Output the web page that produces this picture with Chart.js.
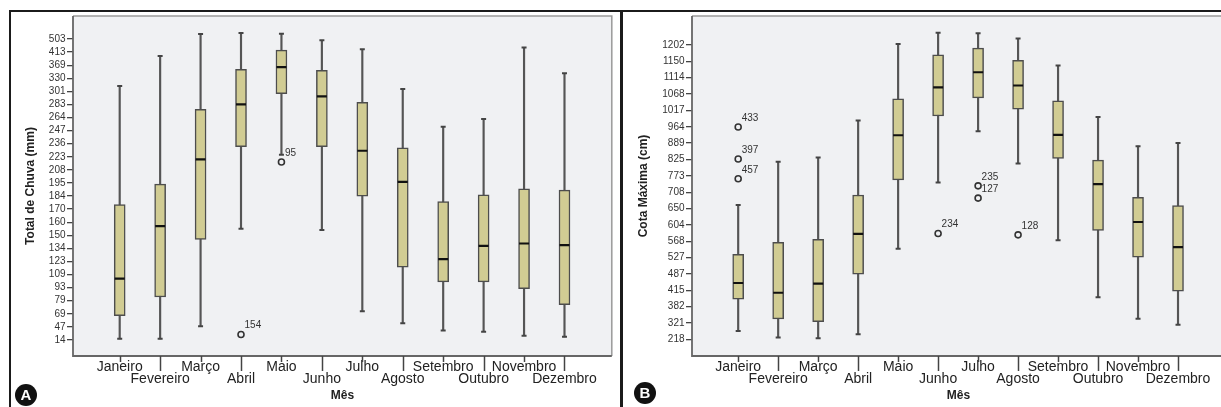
<!DOCTYPE html>
<html>
<head>
<meta charset="utf-8">
<script src="https://cdn.jsdelivr.net/npm/chart.js@4.4.1/dist/chart.umd.min.js"></script>
<style>
  html, body { margin: 0; padding: 0; background: #fff; overflow: hidden; }
  #wrap { position: relative; width: 1221px; height: 407px; overflow: hidden; }
  .frame { position: absolute; left: 9px; top: 10px; width: 1300px; height: 500px;
           border-top: 2.5px solid #1b1b1b; border-left: 2.5px solid #1b1b1b; }
  .sep { position: absolute; left: 620px; top: 10px; width: 2.5px; height: 400px; background: #1b1b1b; }
  .cv { position: absolute; top: 0; }
  .badge { position: absolute; width: 22px; height: 22px; border-radius: 50%; background: #111; color: #fff;
           font: bold 15px 'Liberation Sans', Arial, sans-serif; text-align: center; line-height: 22px; }
</style>
</head>
<body>
<div id="wrap">
  <div class="frame"></div>
  <div class="sep"></div>
  <canvas id="chartA" class="cv" style="left:0" width="619" height="407"></canvas>
  <canvas id="chartB" class="cv" style="left:619px" width="613" height="407"></canvas>
  <div class="badge" style="left:15px;top:384px">A</div>
  <div class="badge" style="left:634px;top:382px">B</div>
</div>
<script>
// ── data ────────────────────────────────────────────────────────
const months = ["Janeiro", "Fevereiro", "Março", "Abril", "Maio", "Junho",
  "Julho", "Agosto", "Setembro", "Outubro", "Novembro", "Dezembro"];

// A — Total de Chuva (mm); axis ticks are evenly spaced, not linear in value
const rainTicks = [14, 47, 69, 79, 93, 109, 123, 134, 150, 160, 170, 184,
  195, 208, 223, 236, 247, 264, 283, 301, 330, 369, 413, 503];
const rainMin = [17, 17, 48, 155, 225, 154, 71, 53, 38, 35, 25, 22];
const rainQ1  = [66, 83, 145, 233, 298, 233, 184, 117, 100, 100, 92, 76];
const rainMed = [104, 157, 220, 283, 363, 294, 229, 196, 125, 137, 140, 138];
const rainQ3  = [175, 194, 276, 357, 427, 354, 286, 232, 178, 185, 190, 189];
const rainMax = [313, 400, 537, 544, 540, 494, 432, 306, 252, 262, 445, 345];
const rainOutMonth = [3, 4];
const rainOutValue = [28, 217];
const rainOutLabel = ["154", "95"];

// B — Cota Máxima (cm)
const cotaTicks = [218, 321, 382, 415, 487, 527, 568, 604, 650, 708, 773,
  825, 889, 964, 1017, 1068, 1114, 1150, 1202];
const cotaMin = [270, 230, 224, 250, 549, 746, 943, 812, 570, 401, 337, 310];
const cotaQ1  = [397, 336, 326, 486, 757, 999, 1056, 1021, 829, 592, 528, 413];
const cotaMed = [447, 410, 444, 584, 925, 1087, 1126, 1092, 927, 740, 612, 553];
const cotaQ3  = [535, 565, 572, 698, 1053, 1171, 1192, 1153, 1047, 823, 690, 660];
const cotaMax = [662, 818, 833, 984, 1205, 1241, 1239, 1223, 1141, 996, 877, 890];
const cotaOutMonth = [0, 0, 0, 5, 6, 6, 7];
const cotaOutValue = [963, 827, 761, 585, 733, 687, 582];
const cotaOutLabel = ["433", "397", "457", "234", "235", "127", "128"];

const FONT = "'Liberation Sans', Arial, sans-serif";
Chart.defaults.font.family = FONT;

// value -> position on the evenly spaced tick axis (piecewise linear)
function toPos(v, ticks) {
  let k = 0;
  while (k < ticks.length - 2 && v > ticks[k + 1]) k++;
  return k + (v - ticks[k]) / (ticks[k + 1] - ticks[k]);
}

// ── background, frame, staggered x tick marks, outlier labels ───
const boxDecor = {
  id: "boxDecor",
  beforeDraw(chart) {
    const { ctx, chartArea: a } = chart;
    ctx.save();
    ctx.fillStyle = "#f0f1f3";
    ctx.fillRect(a.left, a.top, a.right - a.left, a.bottom - a.top);
    ctx.restore();
  },
  afterDraw(chart, args, o) {
    const { ctx, chartArea: a } = chart;
    const x = chart.scales.x;
    ctx.save();
    ctx.strokeStyle = "#9a9a9a";
    ctx.lineWidth = 1.5;
    ctx.beginPath();
    ctx.moveTo(a.left, a.top); ctx.lineTo(a.right, a.top); ctx.lineTo(a.right, a.bottom);
    ctx.stroke();
    ctx.strokeStyle = "#666";
    ctx.lineWidth = 1.8;
    ctx.beginPath();
    ctx.moveTo(a.left, a.top); ctx.lineTo(a.left, a.bottom); ctx.lineTo(a.right, a.bottom);
    ctx.stroke();

    ctx.strokeStyle = "#444";
    ctx.lineWidth = 1.5;
    months.forEach((m, i) => {
      const px = Math.round(x.getPixelForValue(i)) + 0.5;
      ctx.beginPath();
      ctx.moveTo(px, a.bottom);
      ctx.lineTo(px, a.bottom + (i % 2 ? 15 : 6));
      ctx.stroke();
    });

    const meta = chart.getDatasetMeta(o.outlierIndex);
    ctx.fillStyle = "#333";
    ctx.font = "10px " + FONT;
    ctx.textBaseline = "middle";
    ctx.textAlign = "left";
    meta.data.forEach((p, j) => ctx.fillText(o.labels[j], p.x + 3.5, p.y - 9));
    ctx.restore();
  },
};

function buildBoxChart(el, c) {
  const pos = (v) => toPos(v, c.ticks);
  const idx = months.map((m, i) => i);
  return new Chart(el, {
    type: "bar",
    data: {
      datasets: [
        {
          type: "scatter",
          label: "outliers",
          data: c.outMonth.map((m, j) => ({ x: m, y: pos(c.outValue[j]) })),
          pointStyle: "circle",
          pointRadius: 3,
          pointBorderWidth: 1.6,
          pointBorderColor: "#333",
          pointBackgroundColor: "rgba(0,0,0,0)",
          order: 0,
        },
        {
          type: "scatter",
          label: "median",
          data: idx.map((i) => ({ x: i, y: pos(c.med[i]) })),
          pointStyle: "line",
          pointRadius: 5,
          pointBorderWidth: 2.2,
          pointBorderColor: "#111",
          order: 1,
        },
        {
          type: "scatter",
          label: "caps",
          data: idx.flatMap((i) => [{ x: i, y: pos(c.min[i]) }, { x: i, y: pos(c.max[i]) }]),
          pointStyle: "line",
          pointRadius: 2.5,
          pointBorderWidth: 2,
          pointBorderColor: "#444",
          order: 2,
        },
        {
          label: "box",
          data: idx.map((i) => ({ x: i, y: [pos(c.q1[i]), pos(c.q3[i])] })),
          backgroundColor: "#d1cc93",
          borderColor: "#4d4d4d",
          borderWidth: 1.5,
          borderSkipped: false,
          barThickness: 11,
          grouped: false,
          order: 3,
        },
        {
          label: "whisker",
          data: idx.map((i) => ({ x: i, y: [pos(c.min[i]), pos(c.max[i])] })),
          backgroundColor: "#555",
          borderWidth: 0,
          barThickness: 1.5,
          grouped: false,
          order: 4,
        },
      ],
    },
    options: {
      responsive: false,
      animation: false,
      events: [],
      layout: { padding: { left: 10, right: 4, top: 16, bottom: 0 } },
      plugins: {
        legend: { display: false },
        tooltip: { enabled: false },
        boxDecor: { outlierIndex: 0, labels: c.outLabel },
      },
      scales: {
        x: {
          type: "linear",
          offset: false,
          min: -1.155,
          max: 12.17,
          afterBuildTicks: (s) => { s.ticks = idx.map((i) => ({ value: i })); },
          afterFit: (s) => { s.height = 51; },
          grid: { display: false, drawTicks: false },
          border: { display: false },
          ticks: {
            autoSkip: false,
            maxRotation: 0,
            minRotation: 0,
            padding: 4.5,
            color: "#222",
            font: { size: 14, lineHeight: 0.88 },
            callback: (v) => (v % 2 ? ["", months[v]] : months[v]),
          },
          title: {
            display: true,
            text: "Mês",
            color: "#222",
            font: { size: 12, weight: "bold" },
            padding: { top: 0, bottom: 4.3 },
          },
        },
        y: {
          type: "linear",
          min: c.yMin,
          max: c.yMax,
          afterBuildTicks: (s) => { s.ticks = c.ticks.map((t, i) => ({ value: i })); },
          afterFit: (s) => { s.width = 63; },
          grid: { drawOnChartArea: false, drawTicks: true, tickLength: 6, color: "#444", lineWidth: 1.3 },
          border: { display: false },
          ticks: {
            autoSkip: false,
            padding: 1.5,
            color: "#333",
            font: { size: 10 },
            callback: (v) => c.ticks[v],
          },
          title: {
            display: true,
            text: c.yTitle,
            color: "#222",
            font: { size: 12, weight: "bold" },
            padding: { top: c.titlePad, bottom: 0 },
          },
        },
      },
    },
    plugins: [boxDecor],
  });
}

buildBoxChart(document.getElementById("chartA"), {
  ticks: rainTicks,
  min: rainMin, q1: rainQ1, med: rainMed, q3: rainQ3, max: rainMax,
  outMonth: rainOutMonth, outValue: rainOutValue, outLabel: rainOutLabel,
  yMin: -1.223, yMax: 24.76,
  yTitle: "Total de Chuva (mm)",
  titlePad: 13.8,
});

buildBoxChart(document.getElementById("chartB"), {
  ticks: cotaTicks,
  min: cotaMin, q1: cotaQ1, med: cotaMed, q3: cotaQ3, max: cotaMax,
  outMonth: cotaOutMonth, outValue: cotaOutValue, outLabel: cotaOutLabel,
  yMin: -1.021, yMax: 19.774,
  yTitle: "Cota Máxima (cm)",
  titlePad: 7.8,
});
</script>
</body>
</html>
